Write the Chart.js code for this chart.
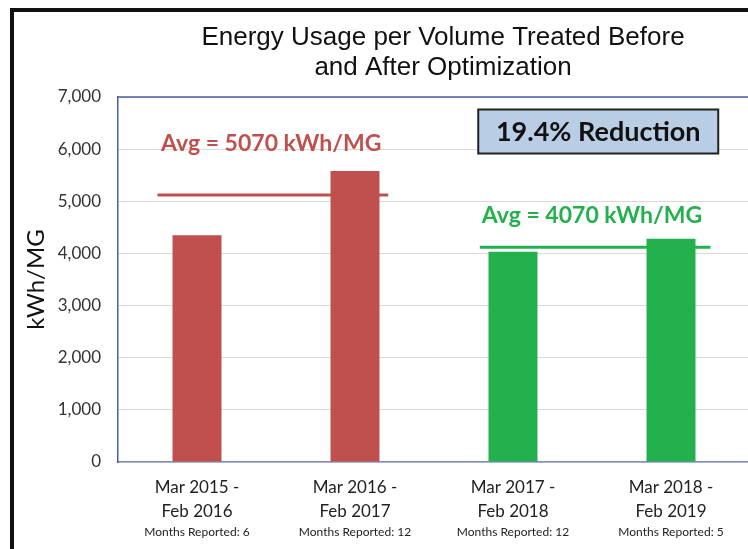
<!DOCTYPE html>
<html>
<head>
<meta charset="utf-8">
<script src="https://cdn.jsdelivr.net/npm/chart.js@4.4.1/dist/chart.umd.min.js"></script>
<style>
  html, body { margin: 0; padding: 0; background: #fff; overflow: hidden; }
  #wrap { position: relative; width: 760px; height: 549px; }
  #frame { position: absolute; left: 10px; top: 8px; width: 800px; height: 600px;
           border-left: 4px solid #111; border-top: 4px solid #111; }
  canvas { position: absolute; left: 0; top: 0; }
</style>
</head>
<body>
<div id="wrap">
  <div id="frame"></div>
  <canvas id="js-chart-canvas" width="760" height="549"></canvas>
</div>
<script>
// energy usage per volume treated - before / after optimization

const labels = [
  ["Mar 2015 -", "Feb 2016"],
  ["Mar 2016 -", "Feb 2017"],
  ["Mar 2017 -", "Feb 2018"],
  ["Mar 2018 -", "Feb 2019"],
];
const monthsReported = [6, 12, 12, 5];
const usage = [4350, 5580, 4030, 4280];
const barColors = ["#c0504d", "#c0504d", "#22b14c", "#22b14c"];

// average lines (as drawn) and their captions
const avgBefore = 5120;
const avgAfter = 4120;
const avgBeforeText = "Avg = 5070 kWh/MG";
const avgAfterText = "Avg = 4070 kWh/MG";
const reductionText = "19.4% Reduction";

const titleLines = ["Energy Usage per Volume Treated Before", "and After Optimization"];

const canvasContext = document.querySelector("#js-chart-canvas").getContext("2d");

const extras = {
  id: "extras",
  afterDraw(chart) {
    const { ctx, chartArea: { top, left, right }, scales: { x, y } } = chart;
    ctx.save();

    // plot border top
    ctx.strokeStyle = "#4a5ea8";
    ctx.lineWidth = 1.5;
    ctx.beginPath();
    ctx.moveTo(left, top);
    ctx.lineTo(right, top);
    ctx.stroke();

    // title
    ctx.fillStyle = "#111";
    ctx.font = "26px 'Liberation Sans', Arial, sans-serif";
    ctx.textAlign = "center";
    ctx.textBaseline = "middle";
    ctx.fillText(titleLines[0], 443, 38);
    ctx.fillText(titleLines[1], 443, 68);

    // avg captions
    const step = x.getPixelForValue(1) - x.getPixelForValue(0);
    ctx.font = "bold 23px Lato, 'Open Sans', sans-serif";
    ctx.fillStyle = "#c0504d";
    ctx.fillText(avgBeforeText, x.getPixelForValue(0) + step * 0.47, y.getPixelForValue(6110));
    ctx.fillStyle = "#22b14c";
    ctx.fillText(avgAfterText, x.getPixelForValue(2) + step * 0.5, y.getPixelForValue(4730));

    // reduction box
    const bx = x.getPixelForValue(2) - step * 0.22;
    const bw = 240;
    const by = y.getPixelForValue(6760);
    const bh = 44;
    ctx.fillStyle = "#b9cde5";
    ctx.fillRect(bx, by, bw, bh);
    ctx.strokeStyle = "#222";
    ctx.lineWidth = 2;
    ctx.strokeRect(bx, by, bw, bh);
    ctx.fillStyle = "#111";
    ctx.font = "bold 27px Lato, 'Open Sans', sans-serif";
    ctx.fillText(reductionText, bx + bw / 2, by + bh / 2 + 1);

    // months reported
    ctx.font = "12px Lato, 'Open Sans', sans-serif";
    ctx.fillStyle = "#222";
    monthsReported.forEach((m, i) => {
      ctx.fillText("Months Reported: " + m, x.getPixelForValue(i), 532);
    });

    ctx.restore();
  },
};

const data = {
  labels: labels,
  datasets: [
    {
      type: "bar",
      data: usage,
      backgroundColor: barColors,
      barPercentage: 1,
      categoryPercentage: 0.31,
      grouped: false,
      order: 2,
    },
    {
      type: "line",
      xAxisID: "xl",
      data: [{ x: -0.25, y: avgBefore }, { x: 1.21, y: avgBefore }],
      borderColor: "#c0504d",
      borderWidth: 3,
      pointRadius: 0,
      order: 1,
    },
    {
      type: "line",
      xAxisID: "xl",
      data: [{ x: 1.79, y: avgAfter }, { x: 3.25, y: avgAfter }],
      borderColor: "#22b14c",
      borderWidth: 3,
      pointRadius: 0,
      order: 1,
    },
  ],
};

const options = {
  responsive: false,
  animation: false,
  layout: { padding: { top: 97, right: 10, left: 0, bottom: 0 } },
  plugins: { legend: { display: false }, tooltip: { enabled: false } },
  scales: {
    x: {
      grid: { display: false, drawTicks: false },
      border: { display: true, color: "#7f8fb8", width: 1.5 },
      ticks: {
        color: "#222",
        padding: 14,
        maxRotation: 0,
        font: { family: "Lato, 'Open Sans', sans-serif", size: 17, lineHeight: 1.4 },
      },
      afterFit(scale) { scale.height = 87; },
    },
    xl: {
      type: "linear",
      display: false,
      offset: false,
      min: -0.5,
      max: 3.5,
    },
    y: {
      min: 0,
      max: 7000,
      ticks: {
        stepSize: 1000,
        color: "#333",
        padding: 17,
        font: { family: "Lato, 'Open Sans', sans-serif", size: 17 },
        callback: (v) => v.toLocaleString("en-US"),
      },
      grid: { color: "#d9d9d9", drawTicks: false },
      border: { display: true, color: "#4a5ea8", width: 1.5 },
      title: {
        display: true,
        text: "kWh/MG",
        color: "#111",
        font: { family: "Lato, 'Open Sans', sans-serif", size: 24 },
        padding: { top: 22, bottom: 0 },
      },
      afterFit(scale) { scale.width = 118; },
    },
  },
};

const config = {
  type: "bar",
  data: data,
  options: options,
  plugins: [extras],
};

const energyChart = new Chart(canvasContext, config);
</script>
</body>
</html>
